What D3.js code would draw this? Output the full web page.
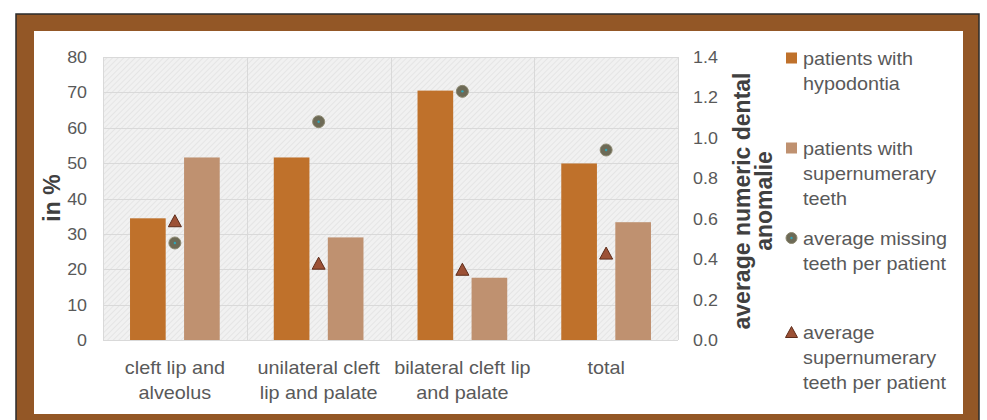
<!DOCTYPE html>
<html>
<head>
<meta charset="utf-8">
<script src="https://cdn.jsdelivr.net/npm/d3@7"></script>
<style>
  html, body { margin: 0; padding: 0; background: #ffffff; }
  svg { display: block; font-family: "Liberation Sans", Arial, sans-serif; }
</style>
</head>
<body>
<svg id="chart" width="987" height="420"></svg>
<script>
// ---- data ----
const categories = [
  ["cleft lip and", "alveolus"],
  ["unilateral cleft", "lip and palate"],
  ["bilateral cleft lip", "and palate"],
  ["total"]
];
const hypodontia = [34.4, 51.6, 70.5, 49.9];
const supernumerary = [51.6, 29.0, 17.6, 33.3];
const avgMissing = [0.48, 1.08, 1.23, 0.94];
const avgSupernumerary = [0.59, 0.38, 0.35, 0.43];
const leftTicks = [0, 10, 20, 30, 40, 50, 60, 70, 80];
const rightTicks = [0, 0.2, 0.4, 0.6, 0.8, 1.0, 1.2, 1.4];
const legendItems = [
  ["patients with", "hypodontia"],
  ["patients with", "supernumerary", "teeth"],
  ["average missing", "teeth per patient"],
  ["average", "supernumerary", "teeth per patient"]
];

// ---- styles ----
const C_HYPO = "#bf712b";
const C_SUPER = "#bf9170";
const C_CIRCLE = "#6d6a56";
const C_TRI = "#9c5136";
const C_FRAME = "#935726";
const C_TEXT = "#595959";
const C_TITLE = "#404040";
const SX = 1.1;

const svg = d3.select("#chart");

// frame
svg.append("rect").attr("x", 16).attr("y", 14).attr("width", 963).attr("height", 420)
  .attr("fill", C_FRAME).attr("stroke", "#2b2b2b").attr("stroke-width", 1.5);
svg.append("rect").attr("x", 34).attr("y", 31).attr("width", 929).attr("height", 383)
  .attr("fill", "#ffffff");

// pattern for plot background
const defs = svg.append("defs");
const pat = defs.append("pattern").attr("id", "hatch").attr("patternUnits", "userSpaceOnUse")
  .attr("width", 4).attr("height", 4).attr("patternTransform", "rotate(45)");
pat.append("rect").attr("width", 4).attr("height", 4).attr("fill", "#f1f1f1");
pat.append("line").attr("x1", 0).attr("y1", 0).attr("x2", 0).attr("y2", 4)
  .attr("stroke", "#e2e2e2").attr("stroke-width", 1.5);

const X0 = 103, X1 = 678, YT = 57, YB = 340;

const catIdx = categories.map((_, i) => i);
const x = d3.scaleBand().domain(catIdx).range([X0, X1]).padding(0);
const xi = d3.scaleBand().domain(["h", "s"]).range([0, x.bandwidth()])
  .paddingInner(0.34).paddingOuter(0.5);
const yL = d3.scaleLinear().domain([0, 80]).range([YB, YT]);
const yR = d3.scaleLinear().domain([0, 1.4]).range([YB, YT]);

svg.append("rect").attr("x", X0).attr("y", YT).attr("width", X1 - X0).attr("height", YB - YT)
  .attr("fill", "url(#hatch)");

// gridlines
const grid = svg.append("g").attr("stroke", "#d9d9d9").attr("stroke-width", 1);
leftTicks.forEach(t => {
  grid.append("line").attr("x1", X0).attr("x2", X1)
    .attr("y1", Math.round(yL(t)) + 0.5).attr("y2", Math.round(yL(t)) + 0.5);
});
catIdx.forEach(i => {
  const bx = Math.round(x(i)) + 0.5;
  grid.append("line").attr("x1", bx).attr("x2", bx).attr("y1", YT).attr("y2", YB);
});
grid.append("line").attr("x1", X1 + 0.5).attr("x2", X1 + 0.5).attr("y1", YT).attr("y2", YB);

function htext(g, tx, ty, str, opts) {
  return g.append("text")
    .attr("transform", `translate(${tx},${ty}) scale(${opts.sx || SX},1)`)
    .attr("text-anchor", opts.anchor || "start")
    .attr("font-size", opts.size)
    .attr("fill", opts.fill || C_TEXT)
    .attr("font-weight", opts.weight || "normal")
    .text(str);
}

// tick labels
const tl = svg.append("g");
leftTicks.forEach(t => htext(tl, 87, yL(t) + 6, d3.format("d")(t), { anchor: "end", size: 17, sx: 1.05 }));
rightTicks.forEach(t => htext(tl, 693, yR(t) + 6, d3.format(".1f")(t), { anchor: "start", size: 17, sx: 1.05 }));

// category labels
const cl = svg.append("g");
categories.forEach((lines, i) => {
  const cx = x(i) + x.bandwidth() / 2;
  lines.forEach((s, k) => htext(cl, cx, 374 + k * 25, s, { anchor: "middle", size: 18 }));
});

// bars
const bars = svg.append("g");
catIdx.forEach(i => {
  bars.append("rect").attr("x", x(i) + xi("h")).attr("width", xi.bandwidth())
    .attr("y", yL(hypodontia[i])).attr("height", YB - yL(hypodontia[i])).attr("fill", C_HYPO);
  bars.append("rect").attr("x", x(i) + xi("s")).attr("width", xi.bandwidth())
    .attr("y", yL(supernumerary[i])).attr("height", YB - yL(supernumerary[i])).attr("fill", C_SUPER);
});

// markers
function triPath(cx, cy, w, h) {
  return `M${cx},${cy - h / 2}L${cx + w / 2},${cy + h / 2}L${cx - w / 2},${cy + h / 2}Z`;
}
function drawCircle(g, cx, cy, r) {
  g.append("circle").attr("cx", cx).attr("cy", cy).attr("r", r)
    .attr("fill", C_CIRCLE).attr("stroke", "#8c8870").attr("stroke-width", 1);
  g.append("circle").attr("cx", cx).attr("cy", cy).attr("r", 1.2).attr("fill", "#2fa6b8");
}
function drawTri(g, cx, cy, w, h) {
  g.append("path").attr("d", triPath(cx, cy, w, h))
    .attr("fill", C_TRI).attr("stroke", "#5e2c1a").attr("stroke-width", 1);
}
const mk = svg.append("g");
catIdx.forEach(i => {
  const cx = x(i) + x.bandwidth() / 2;
  drawCircle(mk, cx, yR(avgMissing[i]), 6);
  drawTri(mk, cx, yR(avgSupernumerary[i]), 13, 12);
});

// axis titles
svg.append("text").attr("transform", "translate(52,198) rotate(-90)")
  .attr("text-anchor", "middle").attr("dy", "0.35em")
  .attr("font-size", 23).attr("font-weight", "bold").attr("fill", C_TITLE).text("in %");
svg.append("text").attr("transform", "translate(742,201) rotate(-90)")
  .attr("text-anchor", "middle").attr("dy", "0.35em")
  .attr("font-size", 23).attr("font-weight", "bold").attr("fill", C_TITLE).text("average numeric dental");
svg.append("text").attr("transform", "translate(764,201) rotate(-90)")
  .attr("text-anchor", "middle").attr("dy", "0.35em")
  .attr("font-size", 23).attr("font-weight", "bold").attr("fill", C_TITLE).text("anomalie");

// legend
const lg = svg.append("g");
const legendY = [58, 148, 238, 332];
legendItems.forEach((lines, k) => {
  const cy = legendY[k];
  if (k === 0) lg.append("rect").attr("x", 786).attr("y", cy - 5.5).attr("width", 11).attr("height", 11).attr("fill", C_HYPO);
  if (k === 1) lg.append("rect").attr("x", 786).attr("y", cy - 5.5).attr("width", 11).attr("height", 11).attr("fill", C_SUPER);
  if (k === 2) drawCircle(lg, 791.5, cy, 5.5);
  if (k === 3) drawTri(lg, 791.5, cy, 12, 11);
  lines.forEach((s, j) => htext(lg, 803, cy + 6.5 + j * 25, s, { anchor: "start", size: 18 }));
});
</script>
</body>
</html>
